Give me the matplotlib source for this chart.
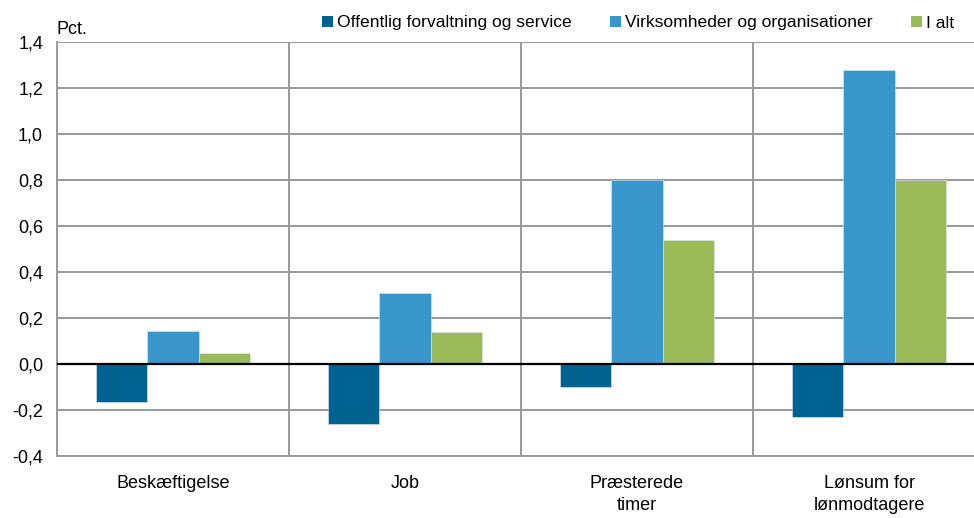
"""Bar chart: change in employment measures by sector (pct.)."""

import matplotlib.pyplot as plt
import numpy as np
from matplotlib.patches import Patch
from matplotlib.ticker import FixedLocator, FuncFormatter

categories = ["Beskæftigelse", "Job", "Præsterede\ntimer", "Lønsum for\nlønmodtagere"]
series_names = [
    "Offentlig forvaltning og service",
    "Virksomheder og organisationer",
    "I alt",
]
offentlig = [-0.165, -0.26, -0.10, -0.23]
virksomheder = [0.143, 0.31, 0.80, 1.28]
i_alt = [0.048, 0.14, 0.54, 0.80]
colors = ["#00628F", "#3996CB", "#9BBB59"]

plt.rcParams["font.family"] = ["Liberation Sans Narrow", "Liberation Sans", "DejaVu Sans"]

fig = plt.figure(figsize=(9.74, 5.18), dpi=100)
W, H = 974, 518
ax = fig.add_axes([57 / W, (H - 456) / H, (985 - 57) / W, (456 - 42) / H])

x = np.arange(len(categories))
width = 0.222
for i, (vals, col) in enumerate(zip([offentlig, virksomheder, i_alt], colors)):
    ax.bar(x + (i - 1) * width, vals, width, color=col, edgecolor="#dbe9f2",
           linewidth=0.4, zorder=3)

ax.set_xlim(-0.5, len(categories) - 0.5)
ax.set_ylim(-0.4, 1.4)
ax.set_yticks(np.arange(-0.4, 1.41, 0.2))
ax.yaxis.set_major_formatter(FuncFormatter(lambda v, _: f"{v:.1f}".replace(".", ",")))
ax.set_xticks(x)
ax.set_xticklabels(categories, linespacing=1.35)
ax.xaxis.set_minor_locator(FixedLocator([0.5, 1.5, 2.5]))

ax.grid(axis="y", which="major", color="#999999", linewidth=1.4, zorder=0)
ax.grid(axis="x", which="minor", color="#999999", linewidth=1.4, zorder=0)
ax.axhline(0, color="black", linewidth=1.6, zorder=4)

for side in ["top", "right"]:
    ax.spines[side].set_visible(False)
for side in ["left", "bottom"]:
    ax.spines[side].set_color("#999999")
    ax.spines[side].set_linewidth(1.4)

ax.tick_params(axis="both", which="both", length=0, labelsize=13)
ax.tick_params(axis="x", pad=14)
ax.tick_params(axis="y", pad=10)

fig.text(57 / W, 1 - 29 / H, "Pct.", fontsize=13, va="center", ha="left")

handles = [Patch(facecolor=c, edgecolor="none") for c in colors]
fig.legend(handles, series_names, loc="center left", bbox_to_anchor=(322 / W, 1 - 23 / H),
           ncol=3, frameon=False, fontsize=12.6, handlelength=0.6, handleheight=0.6,
           handletextpad=0.25, columnspacing=2.2, borderaxespad=0, borderpad=0)

fig.savefig("out.png", dpi=100)
